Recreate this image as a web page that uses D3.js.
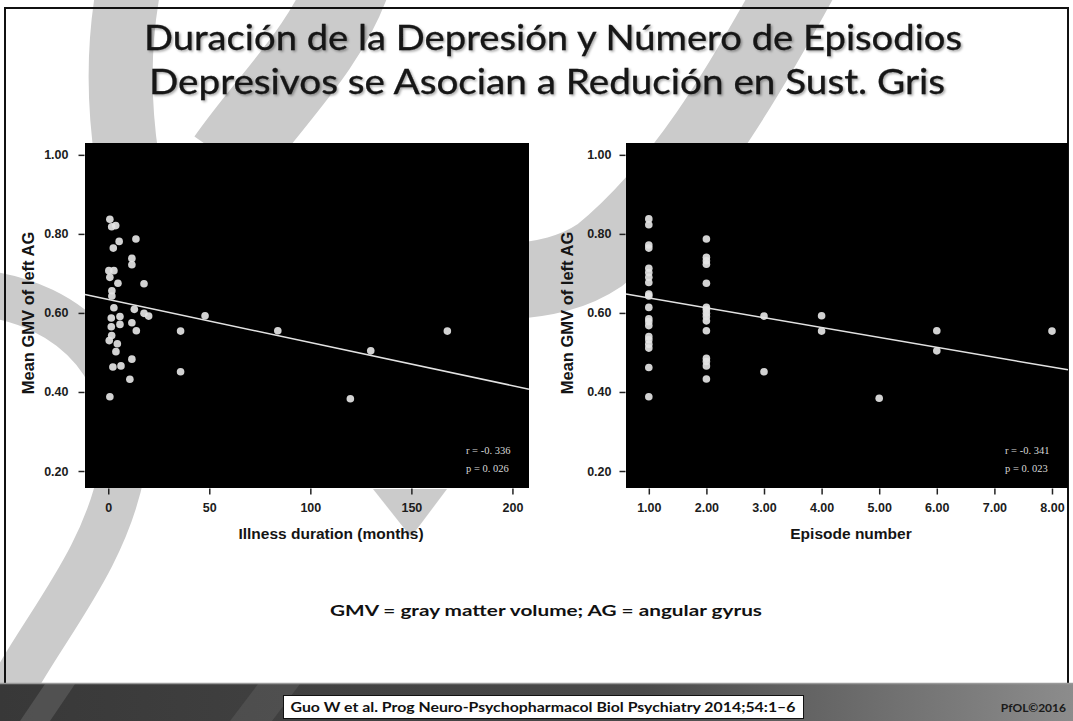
<!DOCTYPE html>
<html>
<head>
<meta charset="utf-8">
<script src="https://cdn.jsdelivr.net/npm/d3@7"></script>
<style>
  html, body { margin: 0; padding: 0; background: #fff; }
  svg { display: block; }
</style>
</head>
<body>
<svg id="slide" width="1073" height="721"></svg>
<script>
// ---- data -------------------------------------------------------------
const titleLines = [
  "Duración de la Depresión y Número de Episodios",
  "Depresivos se Asocian a Redución en Sust. Gris"
];
const yAxisLabel = "Mean GMV of left AG";
const yTicks = [0.20, 0.40, 0.60, 0.80, 1.00];

// Illness duration (months) vs mean GMV
const durationMonths = [0.8, 1.7, 3.7, 5.4, 13.7, 2.5, 11.7, 11.7, 0.3, 2.8, 0.8, 4.8, 17.7, 1.8, 1.8,
  2.8, 12.9, 17.7, 20.0, 1.5, 5.8, 1.5, 5.8, 11.7, 13.9, 35.8, 1.7, 0.5, 4.5, 3.8, 11.7, 2.3, 6.3,
  35.8, 10.7, 0.8, 47.9, 83.9, 167.8, 129.9, 119.8];
const durationGMV = [0.837, 0.818, 0.821, 0.781, 0.787, 0.764, 0.738, 0.722, 0.707, 0.707, 0.690, 0.675, 0.674, 0.656, 0.643,
  0.613, 0.609, 0.599, 0.592, 0.587, 0.591, 0.565, 0.571, 0.575, 0.555, 0.554, 0.543, 0.530, 0.522, 0.502, 0.483, 0.463, 0.466,
  0.451, 0.432, 0.388, 0.593, 0.555, 0.554, 0.504, 0.383];
const durationTicks = [0, 50, 100, 150, 200];
const durationFit = [0.634, -0.00109];   // intercept, slope
const durationStats = ["r = -0. 336", "p = 0. 026"];

// Episode number vs mean GMV
const episodeNumber = [1, 1, 1, 1, 1, 1, 1, 1, 1, 1, 1, 1, 1, 1, 1, 1, 1, 1, 1, 1,
  2, 2, 2, 2, 2, 2, 2, 2, 2, 2, 2, 2, 2, 2, 2,
  3, 3, 4, 4, 5, 6, 6, 8];
const episodeGMV = [0.838, 0.823, 0.772, 0.764, 0.713, 0.702, 0.690, 0.677, 0.648, 0.643, 0.614, 0.585, 0.578, 0.568, 0.540, 0.532, 0.521, 0.511, 0.462, 0.388,
  0.787, 0.741, 0.732, 0.723, 0.675, 0.614, 0.608, 0.599, 0.591, 0.580, 0.555, 0.485, 0.477, 0.466, 0.433,
  0.592, 0.451, 0.593, 0.554, 0.384, 0.555, 0.504, 0.554];
const episodeTicks = [1, 2, 3, 4, 5, 6, 7, 8];
const episodeFit = [0.663, -0.025];
const episodeStats = ["r = -0. 341", "p = 0. 023"];

const noteText = "GMV = gray matter volume; AG = angular gyrus";
const citation = "Guo W et al. Prog Neuro-Psychopharmacol Biol Psychiatry 2014;54:1–6";
const credit = "PfOL©2016";

// ---- drawing ----------------------------------------------------------
const svg = d3.select("#slide");
const defs = svg.append("defs");

const footGrad = defs.append("linearGradient").attr("id", "footGrad").attr("x1", 0).attr("x2", 1);
footGrad.append("stop").attr("offset", 0).attr("stop-color", "#383838");
footGrad.append("stop").attr("offset", 0.6).attr("stop-color", "#4a4a4a");
footGrad.append("stop").attr("offset", 1).attr("stop-color", "#8c8c8c");

const shadow = defs.append("filter").attr("id", "tshadow").attr("x", "-5%").attr("y", "-20%").attr("width", "110%").attr("height", "140%");
shadow.append("feDropShadow").attr("dx", 1.5).attr("dy", 1.5).attr("stdDeviation", 0.8)
  .attr("flood-color", "#000").attr("flood-opacity", 0.35);

// decorative grey swooshes behind the content
const swoosh = svg.append("g").attr("fill", "none").attr("stroke", "#cbcbcb");
swoosh.append("path").attr("d", "M130,-20 C118,40 118,100 127,160").attr("stroke-width", 64);
swoosh.append("path").attr("d", "M350,-20 C325,50 270,100 228,160").attr("stroke-width", 82);
swoosh.append("path").attr("d", "M800,-20 C740,90 680,190 600,255 C575,272 545,280 500,282").attr("stroke-width", 76);
swoosh.append("path").attr("d", "M-30,292 C80,300 140,380 122,470 C105,560 45,625 5,700").attr("stroke-width", 46);
svg.append("path").attr("d", "M373,489 L447,489 L411,537 Z").attr("fill", "#cbcbcb");

// slide frame
svg.append("rect").attr("x", 5).attr("y", 8).attr("width", 1063).attr("height", 690)
  .attr("fill", "none").attr("stroke", "#111").attr("stroke-width", 2);

// title
const title = svg.append("g").attr("filter", "url(#tshadow)")
  .attr("font-family", "Lato, 'Open Sans', sans-serif").attr("font-size", 35).attr("fill", "#141414")
  .attr("stroke", "#141414").attr("stroke-width", 0.3)
  .attr("text-anchor", "middle");
title.selectAll("text").data(titleLines).join("text")
  .attr("x", (d, i) => i === 0 ? 553 : 547)
  .attr("y", (d, i) => 50 + i * 44)
  .attr("textLength", (d, i) => i === 0 ? 818 : 796)
  .attr("lengthAdjust", "spacingAndGlyphs")
  .text(d => d);

// shared value scale
const yScale = d3.scaleLinear().domain([0.157, 1.030]).range([488, 143]);

function scatterPanel(cfg) {
  const g = svg.append("g");
  const x = cfg.x;
  const [x0, x1] = x.range();
  g.append("rect").attr("x", x0).attr("y", 143).attr("width", x1 - x0).attr("height", 345).attr("fill", "#000");

  const yAxis = g.append("g").attr("transform", `translate(${x0 - 0.5},0)`)
    .call(d3.axisLeft(yScale).tickValues(yTicks).tickFormat(d3.format(".2f")).tickSize(6).tickPadding(cfg.yPad));
  const xAxis = g.append("g").attr("transform", `translate(0,${488.5})`)
    .call(d3.axisBottom(x).tickValues(cfg.ticks).tickFormat(cfg.fmt).tickSize(6).tickPadding(9));
  [yAxis, xAxis].forEach(a => {
    a.select(".domain").remove();
    a.selectAll(".tick line").attr("stroke", "#222").attr("stroke-width", 1.5);
    a.selectAll("text").attr("font-family", "'Liberation Sans', Arial, sans-serif")
      .attr("font-size", 12.5).attr("font-weight", "bold").attr("fill", "#1c1c1c");
  });

  // fit line across the panel
  const [a, b] = cfg.fit;
  const xd = x.domain();
  g.append("line")
    .attr("x1", x(xd[0])).attr("y1", yScale(a + b * xd[0]))
    .attr("x2", x(xd[1])).attr("y2", yScale(a + b * xd[1]))
    .attr("stroke", "#e2e2e2").attr("stroke-width", 1.5);

  g.append("g").selectAll("circle").data(cfg.xs).join("circle")
    .attr("cx", d => x(d)).attr("cy", (d, i) => yScale(cfg.ys[i]))
    .attr("r", 3.8).attr("fill", "#e4e4e4").attr("fill-opacity", 0.92);

  g.append("g").selectAll("text").data(cfg.stats).join("text")
    .attr("x", x1 - 63).attr("y", (d, i) => 454 + i * 18)
    .attr("font-family", "'Liberation Serif', 'DejaVu Serif', serif").attr("font-size", 10.5)
    .attr("fill", "#d8d8d8").text(d => d);

  g.append("text").attr("transform", `translate(${cfg.yTitleX},313) rotate(-90)`)
    .attr("text-anchor", "middle").attr("dy", "0.35em")
    .attr("font-family", "'Liberation Sans', Arial, sans-serif").attr("font-size", 16.5)
    .attr("font-weight", "bold").attr("fill", "#141414").text(yAxisLabel);

  g.append("text").attr("x", cfg.xTitleX).attr("y", 539).attr("text-anchor", "middle")
    .attr("font-family", "'Liberation Sans', Arial, sans-serif").attr("font-size", 15.5)
    .attr("font-weight", "bold").attr("fill", "#141414").text(cfg.xTitle);
}

scatterPanel({
  x: d3.scaleLinear().domain([-11.5, 208.2]).range([85, 529]),
  ticks: durationTicks, fmt: d3.format("d"), yPad: 10,
  xs: durationMonths, ys: durationGMV, fit: durationFit, stats: durationStats,
  yTitleX: 28, xTitleX: 331, xTitle: "Illness duration (months)"
});
scatterPanel({
  x: d3.scaleLinear().domain([0.604, 8.278]).range([626, 1068]),
  ticks: episodeTicks, fmt: d3.format(".2f"), yPad: 8,
  xs: episodeNumber, ys: episodeGMV, fit: episodeFit, stats: episodeStats,
  yTitleX: 567, xTitleX: 851, xTitle: "Episode number"
});

// footnote
svg.append("text").attr("x", 546).attr("y", 616).attr("text-anchor", "middle")
  .attr("font-family", "Lato, 'Open Sans', sans-serif").attr("font-size", 16).attr("font-weight", "bold")
  .attr("fill", "#111").attr("textLength", 432).attr("lengthAdjust", "spacingAndGlyphs").text(noteText);

// footer band
svg.append("rect").attr("x", 0).attr("y", 683).attr("width", 1073).attr("height", 38).attr("fill", "url(#footGrad)");
svg.append("path").attr("d", "M20,721 L45,684 L75,684 L50,721 Z").attr("fill", "#fff").attr("opacity", 0.12);
svg.append("path").attr("d", "M230,721 L258,684 L300,684 L272,721 Z").attr("fill", "#fff").attr("opacity", 0.08);
svg.append("line").attr("x1", 0).attr("x2", 1073).attr("y1", 683.5).attr("y2", 683.5).attr("stroke", "#9a9a9a").attr("stroke-width", 1.5);
svg.append("rect").attr("x", 283.5).attr("y", 695.5).attr("width", 520).attr("height", 23)
  .attr("fill", "#fff").attr("stroke", "#111").attr("stroke-width", 1);
svg.append("text").attr("x", 543).attr("y", 712).attr("text-anchor", "middle")
  .attr("font-family", "Lato, 'Open Sans', sans-serif").attr("font-size", 13).attr("font-weight", "bold")
  .attr("fill", "#111").attr("textLength", 505).attr("lengthAdjust", "spacingAndGlyphs").text(citation);
svg.append("text").attr("x", 1066).attr("y", 712).attr("text-anchor", "end")
  .attr("font-family", "Lato, 'Open Sans', sans-serif").attr("font-size", 12).attr("font-weight", "bold")
  .attr("fill", "#1a1a1a").text(credit);
</script>
</body>
</html>
